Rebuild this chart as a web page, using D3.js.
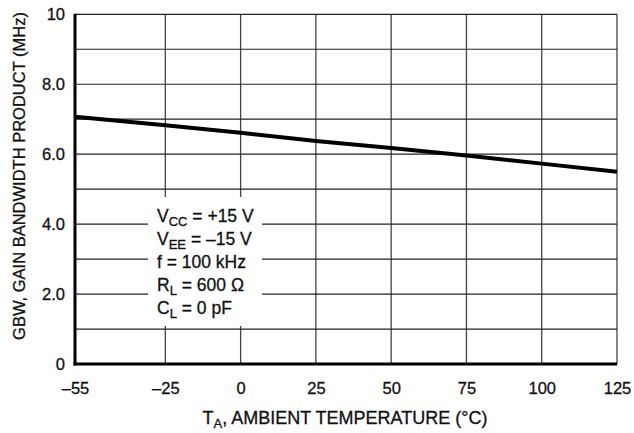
<!DOCTYPE html>
<html><head><meta charset="utf-8">
<script src="https://cdn.jsdelivr.net/npm/d3@7/dist/d3.min.js"></script>
<style>
body{margin:0;background:#fff;}
svg{display:block;}
text{font-family:"Liberation Sans",Arial,sans-serif;fill:#111;stroke:#111;stroke-width:0.3px;}
</style></head>
<body><svg id="c" width="634" height="433"></svg>
<script>
// ---- data ----
const temps = [-55, -25, 0, 25, 50, 75, 100, 125];
const gbw = [7.07, 6.83, 6.61, 6.38, 6.18, 5.96, 5.73, 5.50];
const xTickValues = [-55, -25, 0, 25, 50, 75, 100, 125];
const xTickLabels = ["\u201355", "\u201325", "0", "25", "50", "75", "100", "125"];
const yTickValues = [0, 2, 4, 6, 8, 10];
const yTickLabels = ["0", "2.0", "4.0", "6.0", "8.0", "10"];
const xGrid = [-25, 0, 25, 50, 75, 100, 125];
const yGrid = [1, 2, 3, 4, 5, 6, 7, 8, 9, 10];
const condMain = ["V", "V", "f = 100 kHz", "R", "C"];
const condSub = ["CC", "EE", "", "L", "L"];
const condRest = [" = +15 V", " = \u201315 V", "", " = 600 \u03A9", " = 0 pF"];

const svg = d3.select("#c");
const x = d3.scaleLinear().domain([-55, 125]).range([75, 617]);
const y = d3.scaleLinear().domain([0, 10]).range([364, 14.3]);

// grid
const g = svg.append("g");
g.selectAll(".vg").data(xGrid).join("line")
  .attr("x1", d => x(d)).attr("x2", d => x(d))
  .attr("y1", y(0)).attr("y2", y(10))
  .attr("stroke", "#444").attr("stroke-width", 1.3);
g.selectAll(".hg").data(yGrid).join("line")
  .attr("x1", x(-55)).attr("x2", x(125))
  .attr("y1", d => y(d)).attr("y2", d => y(d))
  .attr("stroke", "#222").attr("stroke-width", 1.2);

// conditions box (white knockout)
svg.append("rect").attr("x", 148).attr("y", 197).attr("width", 114).attr("height", 129).attr("fill", "#fff");

// axes lines (thick left & bottom)
svg.append("line").attr("x1", x(-55)).attr("x2", x(-55)).attr("y1", y(0) + 1.5).attr("y2", y(10) - 0.5)
  .attr("stroke", "#000").attr("stroke-width", 3);
svg.append("line").attr("x1", x(-55) - 1.5).attr("x2", x(125)).attr("y1", y(0)).attr("y2", y(0))
  .attr("stroke", "#000").attr("stroke-width", 3);

// axes labels
const xAxis = d3.axisBottom(x).tickValues(xTickValues).tickSize(0).tickPadding(18)
  .tickFormat((d, i) => xTickLabels[i]);
const gx = svg.append("g").attr("transform", `translate(0,${y(0)})`).call(xAxis);
gx.select(".domain").remove();
gx.selectAll("text").style("font-size", "16.5px").attr("fill", "#111")
  .style("font-family", '"Liberation Sans",Arial,sans-serif');

const yAxis = d3.axisLeft(y).tickValues(yTickValues).tickSize(0).tickPadding(10)
  .tickFormat((d, i) => yTickLabels[i]);
const gy = svg.append("g").attr("transform", `translate(${x(-55)},0)`).call(yAxis);
gy.select(".domain").remove();
gy.selectAll("text").style("font-size", "16.5px").attr("fill", "#111")
  .style("font-family", '"Liberation Sans",Arial,sans-serif');

// data line
const line = d3.line().x((d, i) => x(temps[i])).y(d => y(d));
svg.append("path").datum(gbw).attr("d", line)
  .attr("fill", "none").attr("stroke", "#000").attr("stroke-width", 4);

// conditions text
condMain.forEach((m, i) => {
  const t = svg.append("text").attr("x", 157).attr("y", 222 + i * 23).style("font-size", "17.5px");
  t.append("tspan").text(m);
  if (condSub[i]) t.append("tspan").attr("dy", 4).style("font-size", "13px").text(condSub[i]);
  if (condRest[i]) t.append("tspan").attr("dy", condSub[i] ? -4 : 0).text(condRest[i]);
});

// axis titles
const xt = svg.append("text").attr("x", 345).attr("y", 423.5).attr("text-anchor", "middle").style("font-size", "18px");
xt.append("tspan").text("T");
xt.append("tspan").attr("dy", 4).style("font-size", "13px").text("A");
xt.append("tspan").attr("dy", -4).text(", AMBIENT TEMPERATURE (\u00B0C)");

svg.append("text").attr("transform", "translate(25,176) rotate(-90)").attr("text-anchor", "middle")
  .style("font-size", "16.5px").text("GBW, GAIN BANDWIDTH PRODUCT (MHz)");
</script></body></html>
